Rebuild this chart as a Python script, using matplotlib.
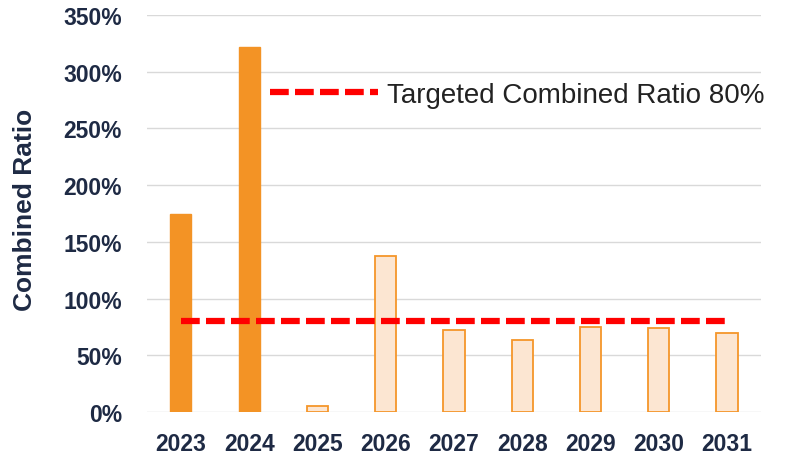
import matplotlib.pyplot as plt
import numpy as np
from matplotlib.ticker import FuncFormatter

plt.rcParams['font.family'] = ['Liberation Sans', 'DejaVu Sans']

# Data
years = ['2023', '2024', '2025', '2026', '2027', '2028', '2029', '2030', '2031']
ratio = [175, 322, 5, 138, 72, 64, 75, 74, 70]   # combined ratio [%]
actual = [True, True, False, False, False, False, False, False, False]
target = 80  # [%]
target_label = 'Targeted Combined Ratio 80%'

# Colours
c_solid = '#F39325'
c_light = '#FCE6D2'
c_edge = '#F5962A'
c_text = '#1E2A44'

fig = plt.figure(figsize=(8.02, 4.56), dpi=100, facecolor='white')
ax = fig.add_axes([0.183, 0.094, 0.766, 0.871])

x = np.arange(len(years))
for i in range(len(years)):
    if actual[i]:
        ax.bar(x[i], ratio[i], width=0.31, color=c_solid, edgecolor=c_solid, zorder=3)
    else:
        ax.bar(x[i], ratio[i], width=0.31, color=c_light, edgecolor=c_edge, linewidth=1.3, zorder=3)

ax.plot([x[0], x[-1]], [target, target], color='#FF0000', linewidth=4.5,
        dashes=(3.0, 1.0), zorder=4, label=target_label)

ax.set_xlim(-0.5, len(years) - 0.5)
ax.set_ylim(0, 350)
ax.set_yticks(np.arange(0, 351, 50))
ax.yaxis.set_major_formatter(FuncFormatter(lambda v, p: '%d%%' % v))
ax.set_xticks(x)
ax.set_xticklabels(years)
ax.tick_params(axis='both', length=0, labelsize=16.5, labelcolor=c_text)
ax.tick_params(axis='y', pad=18)
ax.tick_params(axis='x', pad=14)
for lab in ax.get_xticklabels() + ax.get_yticklabels():
    lab.set_fontweight('bold')

ax.grid(axis='y', color='#D9D9D9', linewidth=1, zorder=0)
for s in ax.spines.values():
    s.set_visible(False)

ax.set_ylabel('Combined Ratio', fontsize=19, fontweight='bold', color=c_text)
ax.yaxis.set_label_coords(-0.178, 0.513)

ax.legend(loc='upper left', bbox_to_anchor=(0.16, 0.895), frameon=False,
          fontsize=20, handlelength=3.9, handletextpad=0.3, labelcolor='#222222')

fig.savefig('out.png', dpi=100)
